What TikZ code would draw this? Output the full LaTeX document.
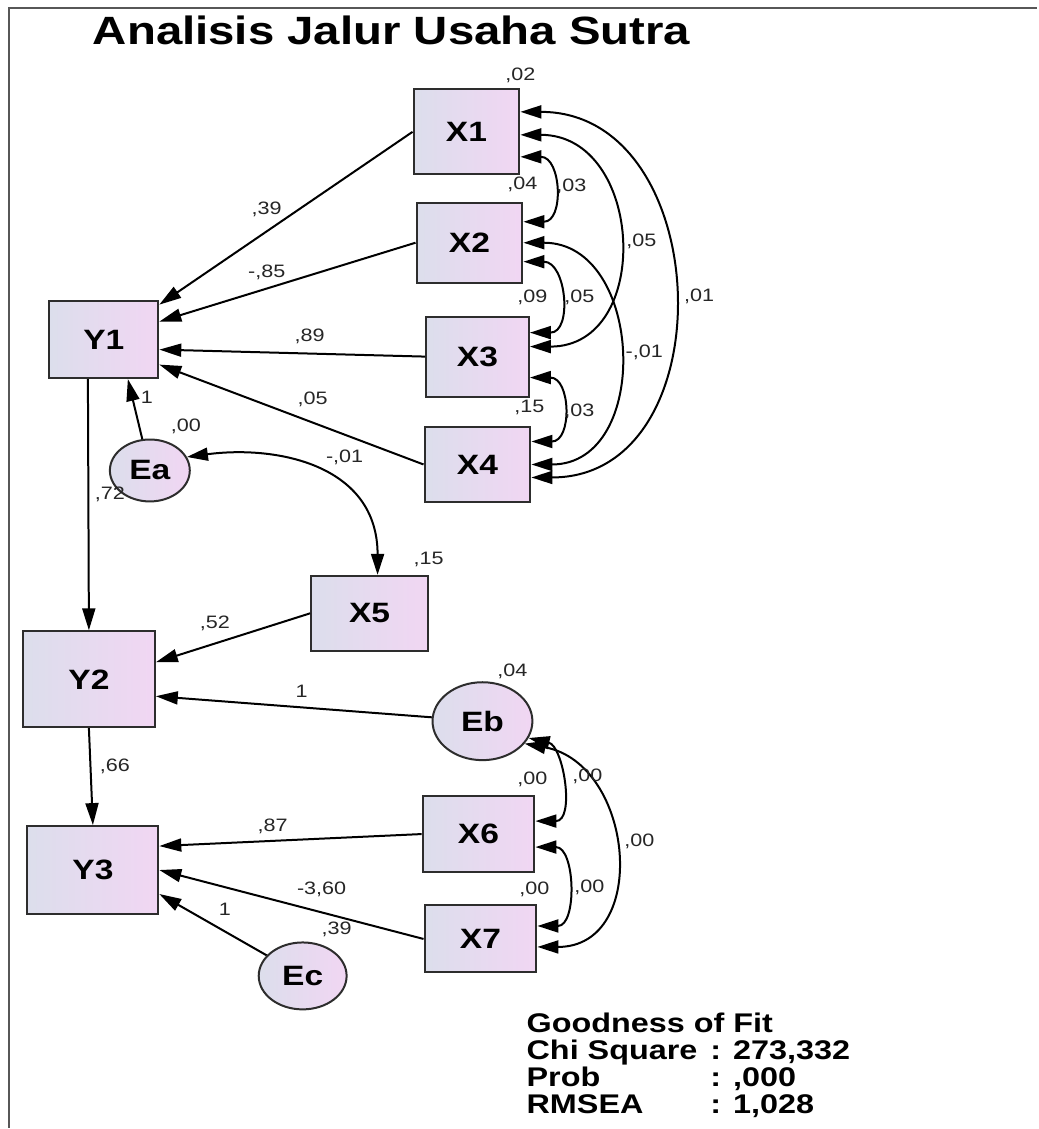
\documentclass[tikz,border=0pt]{standalone}
\usepackage{fontspec}
\setmainfont{Liberation Sans}[FakeStretch=1.2]
\usetikzlibrary{arrows.meta,shapes.geometric}
\definecolor{boxleft}{RGB}{220,222,236}
\definecolor{boxright}{RGB}{241,214,243}
\definecolor{edgegray}{RGB}{45,45,45}

\begin{document}
\begin{tikzpicture}[x=1pt,y=1pt,
  varbox/.style={draw=edgegray,line width=2pt,left color=boxleft,right color=boxright,
    minimum width=106pt,minimum height=80pt,inner sep=0pt,font=\fontsize{28}{30}\selectfont\bfseries},
  errnode/.style={ellipse,draw=edgegray,line width=2pt,left color=boxleft,right color=boxright,
    inner sep=0pt,font=\fontsize{28}{30}\selectfont\bfseries},
  coef/.style={inner sep=0pt,text=black!85,font=\fontsize{18}{20}\selectfont},
  reg/.style={line width=2pt,-{Triangle[length=22pt,width=13pt]}},
  cov/.style={line width=2pt,{Triangle[length=21pt,width=13pt]}-{Triangle[length=21pt,width=13pt]}}]

  % page and frame
  \fill[white] (0,0) rectangle (1038,1129);
  \draw[edgegray!80,line width=2.5pt] (1038,1121) -- (9,1121) -- (9,0);
  \node[font=\fontsize{39.5}{41}\selectfont\bfseries] (title) at (392,1099) {Analisis Jalur Usaha Sutra};

  % variables
  \node[varbox,minimum height=85pt] (X1) at (467,997) {X1};
  \node[varbox] (X2) at (470,886) {X2};
  \node[varbox,minimum width=103pt] (X3) at (478,772) {X3};
  \node[varbox,minimum height=76pt] (X4) at (478,664) {X4};
  \node[varbox,minimum width=109pt,minimum height=77pt] (Y1) at (104,789) {Y1};
  \node[errnode,minimum width=80pt,minimum height=62pt] (Ea) at (150,658) {Ea};
  \node[varbox,minimum width=117pt,minimum height=75pt] (X5) at (370,515) {X5};
  \node[varbox,minimum width=132pt,minimum height=96pt] (Y2) at (89,449) {Y2};
  \node[errnode,minimum width=100pt,minimum height=78pt] (Eb) at (483,407) {Eb};
  \node[varbox,minimum width=112pt,minimum height=76pt] (X6) at (479,294) {X6};
  \node[varbox,minimum width=131pt,minimum height=88pt] (Y3) at (93,258) {Y3};
  \node[varbox,minimum width=112pt,minimum height=67pt] (X7) at (481,189) {X7};
  \node[errnode,minimum width=88pt,minimum height=67pt] (Ec) at (303,152) {Ec};

  % regressions
  \draw[reg] (X1.west) -- ([yshift=35pt]Y1.east);
  \draw[reg] (X2.west) -- ([yshift=18pt]Y1.east);
  \draw[reg] (X3.west) -- ([yshift=-10pt]Y1.east);
  \draw[reg] (X4.west) -- ([yshift=-25pt]Y1.east);
  \draw[reg] (Ea) -- ([xshift=24pt]Y1.south);
  \draw[reg] ([xshift=-16pt]Y1.south) -- (Y2.north);
  \draw[reg] (X5.west) -- ([yshift=17pt]Y2.east);
  \draw[reg] (Eb) -- ([yshift=-17pt]Y2.east);
  \draw[reg] (Y2.south) -- (Y3.north);
  \draw[reg] (X6.west) -- ([yshift=24pt]Y3.east);
  \draw[reg] (X7.west) -- (Y3.east);
  \draw[reg] (Ec) -- ([yshift=-24pt]Y3.east);

  % covariances
  \draw[cov] ([yshift=-25pt]X1.east) .. controls +(41,0) and +(41,0) .. ([yshift=21pt]X2.east);
  \draw[cov] ([yshift=-3pt]X1.east) .. controls +(124,0) and +(124,0) .. ([yshift=10pt]X3.east);
  \draw[cov] ([yshift=20pt]X1.east) .. controls +(196,0) and +(196,0) .. ([yshift=-13pt]X4.east);
  \draw[cov] ([yshift=-19pt]X2.east) .. controls +(43,0) and +(43,0) .. ([yshift=24pt]X3.east);
  \draw[cov] (X2.east) .. controls +(121,0) and +(121,0) .. (X4.east);
  \draw[cov] ([yshift=-21pt]X3.east) .. controls +(41,0) and +(41,0) .. ([yshift=23pt]X4.east);
  \draw[cov] (Ea.20) .. controls +(90,12) and +(0,110) .. ([xshift=8pt]X5.north);
  \draw[cov] (Eb.-20) .. controls +(35,-8) and +(40,0) .. ([yshift=13pt]X6.east);
  \draw[cov] ([yshift=-13pt]X6.east) .. controls +(40,0) and +(40,0) .. ([yshift=13pt]X7.east);
  \draw[cov] (Eb.-28) .. controls +(110,-20) and +(113,0) .. ([yshift=-8pt]X7.east);

  % estimates
  \node[coef] (vX1) at (521,1054) {,02};
  \node[coef] (vX2) at (523,944) {,04};
  \node[coef] (c12) at (572,942) {,03};
  \node[coef] (c13) at (642,887) {,05};
  \node[coef] (c14) at (700,832) {,01};
  \node[coef] (vX3) at (533,831) {,09};
  \node[coef] (c23) at (580,831) {,05};
  \node[coef] (c24) at (645,776) {-,01};
  \node[coef] (vX4) at (530,721) {,15};
  \node[coef] (c34) at (580,717) {,03};
  \node[coef] (b11) at (267,919) {,39};
  \node[coef] (b12) at (267,856) {-,85};
  \node[coef] (b13) at (310,792) {,89};
  \node[coef] (b14) at (313,729) {,05};
  \node[coef] (bEa) at (147,731) {1};
  \node[coef] (vEa) at (186,702) {,00};
  \node[coef] (cEa5) at (345,671) {-,01};
  \node[coef] (b21) at (110,634) {,72};
  \node[coef] (vX5) at (429,569) {,15};
  \node[coef] (b25) at (215,505) {,52};
  \node[coef] (bEb) at (302,437) {1};
  \node[coef] (vEb) at (513,457) {,04};
  \node[coef] (b32) at (115,362) {,66};
  \node[coef] (vX6) at (533,349) {,00};
  \node[coef] (cb6) at (588,352) {,00};
  \node[coef] (b36) at (273,302) {,87};
  \node[coef] (cb7) at (640,287) {,00};
  \node[coef] (vX7) at (535,239) {,00};
  \node[coef] (c67) at (590,241) {,00};
  \node[coef] (b37) at (322,239) {-3,60};
  \node[coef] (bEc) at (225,219) {1};
  \node[coef] (vEc) at (337,199) {,39};

  % fit summary
  \node[anchor=north west,inner sep=0pt,font=\fontsize{27}{25.5}\selectfont\bfseries] (fit) at (527,115)
    {\begin{tabular}{@{}l@{\hspace{13pt}}l@{}}
      \multicolumn{2}{@{}l}{Goodness of Fit}\\
      Chi Square & : 273,332\\
      Prob & : ,000\\
      RMSEA & : 1,028
    \end{tabular}};
\end{tikzpicture}
\end{document}
